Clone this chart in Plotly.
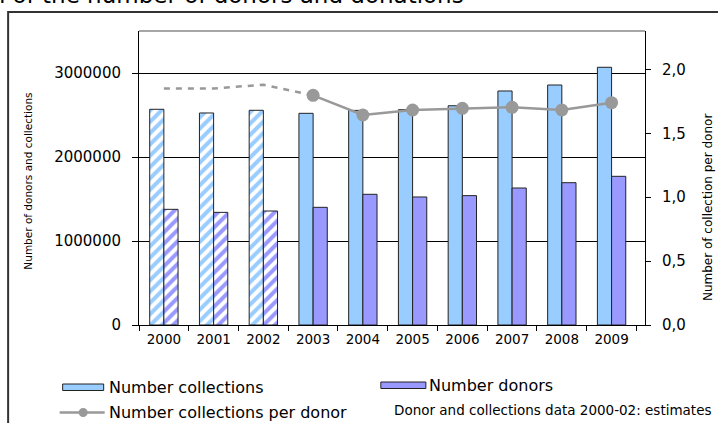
import plotly.graph_objects as go

# Yearly blood donation figures (2000-02 are estimates)
years = ["2000", "2001", "2002", "2003", "2004", "2005", "2006", "2007", "2008", "2009"]
collections = [2568000, 2524000, 2556000, 2520000, 2555000, 2563000, 2610000, 2786000, 2857000, 3068000]
donors = [1377000, 1341000, 1357000, 1401000, 1556000, 1524000, 1540000, 1631000, 1694000, 1770000]
estimated = [True, True, True, False, False, False, False, False, False, False]

# Collections per donor: estimated years drawn dashed, measured years solid with markers
ratio_est_years = ["2000", "2001", "2002", "2003"]
ratio_est = [1.85, 1.85, 1.88, 1.797]
ratio_years = ["2003", "2004", "2005", "2006", "2007", "2008", "2009"]
ratio = [1.797, 1.643, 1.682, 1.695, 1.703, 1.682, 1.739]

W, H = 718, 423
L, R, T, B = 139.3, 645, 31, 325
FONT = "DejaVu Sans, Arial, sans-serif"
C_COLL = "#99CCFF"
C_DON = "#9999FF"
C_LINE = "#999999"
EDGE = "#222222"


def px(x):
    return (x - L) / (R - L)


def py(y):
    return (B - y) / (B - T)


def pattern_for(color):
    return dict(
        shape=["/" if e else "" for e in estimated],
        bgcolor="white",
        fgcolor=color,
        fillmode="replace",
        size=8,
        solidity=0.5,
    )


fig = go.Figure()
fig.add_trace(go.Bar(
    x=years, y=collections, name="Number collections",
    marker=dict(color=C_COLL, line=dict(color=EDGE, width=1), pattern=pattern_for(C_COLL)),
    showlegend=False,
))
fig.add_trace(go.Bar(
    x=years, y=donors, name="Number donors",
    marker=dict(color=C_DON, line=dict(color=EDGE, width=1), pattern=pattern_for(C_DON)),
    showlegend=False,
))
fig.add_trace(go.Scatter(
    x=ratio_est_years, y=ratio_est, yaxis="y2", mode="lines",
    line=dict(color=C_LINE, width=2.5, dash="6px,6px"), showlegend=False,
))
fig.add_trace(go.Scatter(
    x=ratio_years, y=ratio, yaxis="y2", mode="lines+markers",
    name="Number collections per donor",
    line=dict(color=C_LINE, width=2.5),
    marker=dict(color=C_LINE, size=13),
    showlegend=False,
))

shapes = [
    # outer frame
    dict(type="rect", xref="paper", yref="paper",
         x0=px(8.5), x1=px(730), y0=py(440), y1=py(12),
         line=dict(color="#333333", width=2), layer="below"),
    # top border of the plot area
    dict(type="line", xref="paper", yref="paper", x0=0, x1=1, y0=1, y1=1,
         line=dict(color="#888888", width=1.5)),
    # legend swatches
    dict(type="rect", xref="paper", yref="paper",
         x0=px(63), x1=px(104), y0=py(390.5), y1=py(384),
         fillcolor=C_COLL, line=dict(color=EDGE, width=1)),
    dict(type="rect", xref="paper", yref="paper",
         x0=px(381), x1=px(426), y0=py(388.5), y1=py(382),
         fillcolor=C_DON, line=dict(color=EDGE, width=1)),
    dict(type="line", xref="paper", yref="paper",
         x0=px(60), x1=px(105), y0=py(412.5), y1=py(412.5),
         line=dict(color=C_LINE, width=2.5)),
    dict(type="circle", xref="paper", yref="paper",
         x0=px(79), x1=px(88), y0=py(417), y1=py(408),
         fillcolor=C_LINE, line=dict(color=C_LINE, width=0)),
]

annotations = [
    dict(text="Evolution of the number of donors and donations",
         xref="paper", yref="paper", x=px(-104), y=py(10),
         xanchor="left", yanchor="bottom", showarrow=False,
         font=dict(family=FONT, size=23, color="black")),
    dict(text="Number of donors and collections", textangle=-90,
         xref="paper", yref="paper", x=px(28), y=py(181),
         xanchor="center", yanchor="middle", showarrow=False,
         font=dict(family=FONT, size=10.5, color="black")),
    dict(text="Number of collection per donor", textangle=-90,
         xref="paper", yref="paper", x=px(708), y=py(208),
         xanchor="center", yanchor="middle", showarrow=False,
         font=dict(family=FONT, size=12, color="black")),
    dict(text="Number collections", xref="paper", yref="paper",
         x=px(107), y=py(387.5), xanchor="left", yanchor="middle", showarrow=False,
         font=dict(family=FONT, size=16, color="black")),
    dict(text="Number donors", xref="paper", yref="paper",
         x=px(427), y=py(385.5), xanchor="left", yanchor="middle", showarrow=False,
         font=dict(family=FONT, size=16, color="black")),
    dict(text="Number collections per donor", xref="paper", yref="paper",
         x=px(107), y=py(413), xanchor="left", yanchor="middle", showarrow=False,
         font=dict(family=FONT, size=16, color="black")),
    dict(text="Donor and collections data 2000-02: estimates", xref="paper", yref="paper",
         x=px(392), y=py(410), xanchor="left", yanchor="middle", showarrow=False,
         font=dict(family=FONT, size=13.5, color="black")),
]

fig.update_layout(
    width=W, height=H,
    margin=dict(l=L, r=W - R, t=T, b=H - B, pad=0),
    paper_bgcolor="white", plot_bgcolor="white",
    barmode="group", bargap=0.43, bargroupgap=0,
    separators=", ",
    font=dict(family=FONT, color="black"),
    shapes=shapes, annotations=annotations,
    xaxis=dict(
        type="category", tickson="boundaries", ticks="outside", ticklen=5,
        tickcolor="black", showline=True, linecolor="black", linewidth=1,
        showgrid=False, tickfont=dict(size=13.5), ticklabelstandoff=2,
    ),
    yaxis=dict(
        range=[0, 3500000], tickvals=[0, 1000000, 2000000, 3000000], tickformat="d",
        ticks="outside", ticklen=6, tickcolor="black",
        showline=True, linecolor="black", linewidth=1,
        showgrid=True, gridcolor="black", gridwidth=1, zeroline=False,
        tickfont=dict(size=15), ticklabelstandoff=8,
    ),
    yaxis2=dict(
        overlaying="y", side="right", range=[0, 2.3],
        tickvals=[0, 0.5, 1.0, 1.5, 2.0], tickformat=".1f",
        ticks="outside", ticklen=5, tickcolor="black",
        showline=True, linecolor="black", linewidth=1,
        showgrid=False, zeroline=False,
        tickfont=dict(size=15), ticklabelstandoff=8,
    ),
)

fig.write_html("out.html")
